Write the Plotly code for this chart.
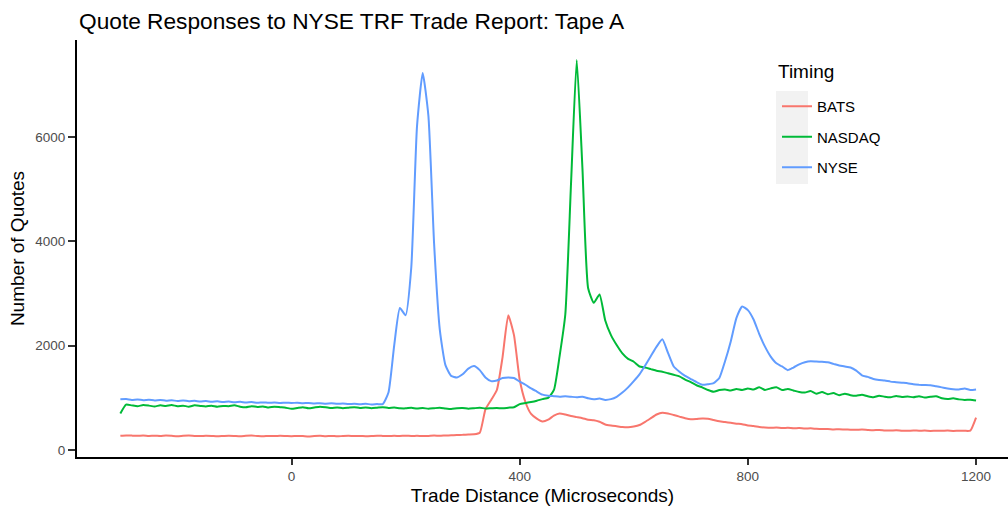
import plotly.graph_objects as go

# Trade distance grid (microseconds)
trade_distance = list(range(-300, 1201, 10))

bats = [
    275, 280, 276, 272, 278, 270, 274, 268, 276, 271,
    265, 273, 278, 270, 266, 275, 270, 262, 268, 274,
    270, 265, 272, 276, 268, 262, 270, 266, 272, 268,
    264, 270, 266, 260, 268, 272, 265, 270, 262, 268,
    272, 266, 270, 264, 268, 275, 270, 266, 272, 268,
    274, 268, 272, 266, 270, 276, 272, 278, 282, 288,
    290, 295, 300, 330, 780, 960, 1150, 1780, 2580, 2200,
    1350, 920, 690, 600, 545, 580, 660, 700, 680, 650,
    630, 610, 580, 570, 540, 490, 470, 455, 440, 435,
    450, 478, 540, 610, 680, 715, 700, 670, 640, 610,
    590, 595, 605, 600, 575, 550, 535, 520, 505, 495,
    470, 460, 440, 430, 425, 430, 420, 425, 418, 420,
    410, 415, 405, 400, 402, 395, 398, 392, 390, 388,
    392, 385, 380, 385, 375, 372, 378, 370, 368, 374,
    370, 372, 366, 370, 368, 372, 366, 370, 368, 372,
    620,
]

nasdaq = [
    700, 870, 855, 840, 860, 850, 835, 855, 845, 860,
    840, 850, 830, 855, 845, 835, 850, 830, 845, 840,
    855, 830, 820, 840, 825, 835, 815, 830, 820, 810,
    790, 805, 820, 800, 815, 830, 820, 805, 815, 800,
    810, 820, 805, 815, 800, 810, 820, 805, 812, 800,
    798, 808, 795, 805, 790, 800, 810, 795, 785, 800,
    805, 790, 800, 810, 795, 800, 805, 798, 810, 820,
    880, 900, 920, 945, 975, 1000, 1150, 1800, 2600, 5100,
    7470, 5400, 3100, 2820, 2980, 2480, 2200, 2010, 1850, 1745,
    1690, 1600, 1580, 1550, 1520, 1500, 1470, 1440, 1410, 1350,
    1300, 1240, 1200, 1150, 1115, 1150, 1160, 1140, 1170, 1150,
    1180, 1160, 1200, 1150, 1180, 1200, 1150, 1170, 1140, 1110,
    1100, 1130, 1080, 1110, 1070, 1090, 1050, 1080, 1050, 1040,
    1060, 1030, 1010, 1040, 1020, 1010, 1035, 1015, 1025, 1010,
    1030, 1005, 1020, 1030, 990, 975, 990, 970, 960, 965,
    950,
]

nyse = [
    970, 975, 960, 968, 955, 962, 950, 958, 945, 952,
    940, 948, 935, 942, 930, 938, 925, 932, 920, 928,
    915, 922, 910, 918, 905, 912, 904, 910, 900, 906,
    900, 906, 896, 902, 892, 898, 888, 894, 884, 890,
    880, 886, 876, 884, 874, 880, 880, 1100, 2000, 2720,
    2580, 3500, 6200, 7220, 6400, 3950, 2300, 1620, 1420, 1390,
    1450, 1560, 1610, 1530, 1390, 1320, 1330, 1380, 1390, 1380,
    1310, 1250, 1180, 1120, 1060, 1040, 1030, 1020, 1030, 1020,
    1010, 1020, 990, 970, 985, 960, 975, 1020, 1100, 1200,
    1320, 1450, 1620, 1800, 1980, 2120, 1860, 1600, 1500, 1420,
    1360, 1300, 1250, 1260, 1280, 1380, 1700, 2080, 2530, 2750,
    2680, 2500, 2220, 1980, 1790, 1660, 1600, 1530, 1580, 1640,
    1680, 1700, 1695, 1690, 1680, 1650, 1620, 1600, 1580, 1520,
    1430, 1400, 1360, 1340, 1330, 1310, 1300, 1290, 1280, 1260,
    1250, 1245, 1240, 1220, 1200, 1180, 1165, 1160, 1180, 1150,
    1160,
]

series_names = ["BATS", "NASDAQ", "NYSE"]
series_values = [bats, nasdaq, nyse]
series_colors = ["#F8766D", "#00BA38", "#619CFF"]

x_ticks = [0, 400, 800, 1200]
y_ticks = [0, 2000, 4000, 6000]

FONT = "Liberation Sans, Arial, sans-serif"

fig = go.Figure()
for name, vals, col in zip(series_names, series_values, series_colors):
    fig.add_trace(go.Scatter(
        x=trade_distance, y=vals, mode="lines", name=name,
        legendgroup=name,
        line=dict(color=col, width=2, shape="spline", smoothing=0.5),
    ))

# plot area in pixels: left 77, right 1008, top 40, bottom 457
L, R, T, B = 77, 1008, 40, 457
W, H = R - L, B - T

def px_x(p):
    return (p - L) / W

def px_y(p):
    return (B - p) / H

fig.add_shape(type="rect", xref="paper", yref="paper",
              x0=px_x(776), x1=px_x(808), y0=px_y(184), y1=px_y(91),
              fillcolor="#F2F2F2", line=dict(width=0), layer="below")

fig.add_annotation(text="Timing", xref="paper", yref="paper",
                   x=px_x(776), y=px_y(72), xanchor="left", yanchor="middle",
                   showarrow=False, font=dict(size=19, color="black", family=FONT))

fig.update_layout(
    width=1008, height=506,
    margin=dict(l=L, r=1008 - R, t=T, b=506 - B),
    paper_bgcolor="white", plot_bgcolor="white",
    font=dict(family=FONT, color="black"),
    title=dict(text="Quote Responses to NYSE TRF Trade Report: Tape A",
               x=px_x(79), xref="paper", xanchor="left",
               y=1 - 21 / 506, yref="container", yanchor="middle",
               font=dict(size=22.7, color="black", family=FONT)),
    showlegend=True,
    legend=dict(x=px_x(777), y=px_y(90), xanchor="left", yanchor="top",
                bgcolor="rgba(0,0,0,0)", borderwidth=0,
                font=dict(size=15, color="black"),
                tracegroupgap=8, itemwidth=30),
    xaxis=dict(range=[-376, 1256], tickmode="array", tickvals=x_ticks,
               showline=True, linecolor="black", linewidth=2,
               ticks="outside", ticklen=6, tickwidth=1.5, tickcolor="#333333",
               tickfont=dict(size=13.5, color="#4D4D4D"),
               showgrid=False, zeroline=False,
               title=dict(text="Trade Distance (Microseconds)",
                          font=dict(size=19, color="black"), standoff=6)),
    yaxis=dict(range=[-134, 7854], tickmode="array", tickvals=y_ticks,
               showline=True, linecolor="black", linewidth=2,
               ticks="outside", ticklen=7, tickwidth=1.5, tickcolor="#333333",
               tickfont=dict(size=13.5, color="#4D4D4D"),
               showgrid=False, zeroline=False,
               title=dict(text="Number of Quotes",
                          font=dict(size=19, color="black"), standoff=6)),
)

fig.write_html(
    "out.html",
    config={"displayModeBar": False},
    post_script="document.body.style.margin='0px';document.body.style.padding='0px';",
)
